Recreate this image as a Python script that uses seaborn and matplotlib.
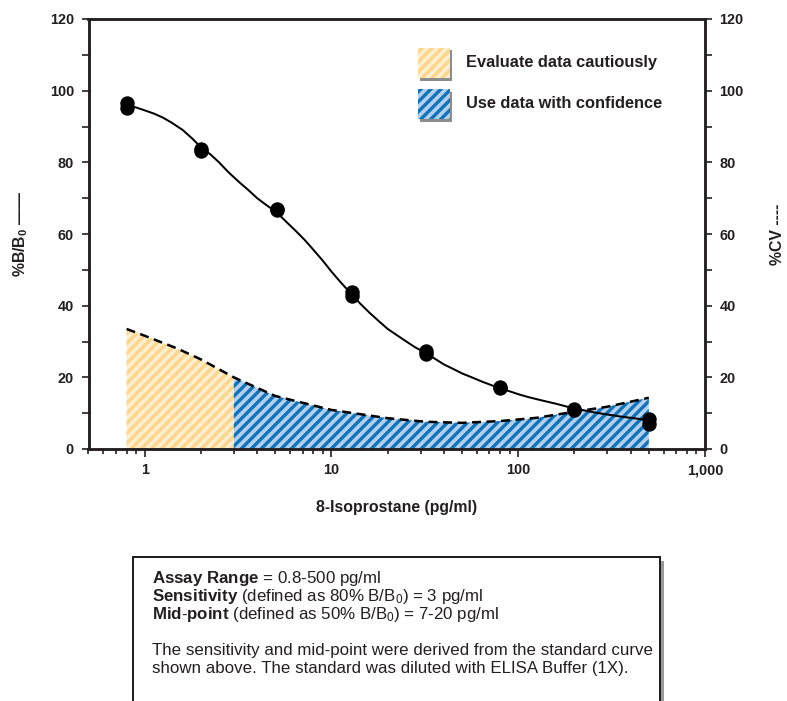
import matplotlib
matplotlib.use("Agg")
import matplotlib.pyplot as plt
import seaborn as sns
import pandas as pd
from matplotlib.patches import Rectangle
from matplotlib.ticker import FixedLocator, FixedFormatter, NullFormatter, LogLocator

# ---------------- data ----------------
std_conc = [0.8, 0.8, 2.0, 2.0, 5.1, 5.1, 12.8, 12.8, 32, 32, 80, 80, 200, 200, 500, 500]
std_bb0 = [96.5, 95.3, 83.8, 83.2, 66.9, 66.6, 43.7, 42.6, 27.3, 26.5, 17.4, 17.1, 11.1, 10.9, 8.4, 7.0]

fit_conc = [0.8, 0.9, 1, 1.12, 1.25, 1.4, 1.6, 1.8, 2, 2.25, 2.5, 2.8, 3.2, 3.6, 4, 4.5, 5.1,
            5.7, 6.4, 7.2, 8, 9, 10, 11.3, 12.8, 14.3, 16, 18, 20, 22.5, 25, 28, 32, 36, 40,
            45, 50, 57, 64, 72, 80, 90, 100, 113, 128, 143, 160, 180, 200, 225, 250, 285,
            320, 360, 400, 450, 500]
fit_bb0 = [96, 95.3, 94.5, 93.6, 92.5, 91, 89, 86.6, 84.2, 82.2, 80, 77.3, 74.5, 72.2, 70,
           68, 66, 63.5, 61, 58.3, 55.6, 52.5, 49.5, 46.3, 43.2, 40.5, 38, 35.6, 33.5, 31.7,
           30.1, 28.4, 26.8, 25.1, 23.6, 22.3, 21.1, 19.9, 18.8, 17.8, 16.9, 16.1, 15.3, 14.5,
           13.8, 13.2, 12.6, 11.9, 11.3, 10.8, 10.3, 9.8, 9.4, 9.0, 8.7, 8.35, 8.0]

cv_conc = [0.8, 1, 1.5, 2, 3, 5, 10, 20, 32, 50, 80, 125, 200, 300, 500]
cv_pct = [33.5, 31.6, 28, 25, 20, 14.8, 10.9, 8.6, 7.6, 7.3, 7.8, 8.7, 10.4, 11.8, 14.3]

sensitivity_conc = 3
legend_labels = ["Evaluate data cautiously", "Use data with confidence"]
y_ticks = [0, 20, 40, 60, 80, 100, 120]
y_minor = [10, 30, 50, 70, 90, 110]
x_ticks = [1, 10, 100, 1000]
x_tick_labels = ["1", "10", "100", "1,000"]
box_lines = [
    r"$\mathbf{Assay\ Range}$ = 0.8-500 pg/ml",
    r"$\mathbf{Sensitivity}$ (defined as 80% B/B$_0$) = 3 pg/ml",
    r"$\mathbf{Mid}$-$\mathbf{point}$ (defined as 50% B/B$_0$) = 7-20 pg/ml",
    "The sensitivity and mid-point were derived from the standard curve",
    "shown above. The standard was diluted with ELISA Buffer (1X).",
]

# ---------------- style ----------------
sns.set_style("ticks")
plt.rcParams["font.family"] = ["Liberation Sans", "DejaVu Sans"]
plt.rcParams["font.weight"] = "bold"
plt.rcParams["axes.labelweight"] = "bold"
plt.rcParams["mathtext.fontset"] = "custom"
plt.rcParams["mathtext.rm"] = "Liberation Sans:weight=normal"
plt.rcParams["mathtext.it"] = "Liberation Sans:italic:weight=normal"
plt.rcParams["mathtext.bf"] = "Liberation Sans:bold"
plt.rcParams["hatch.linewidth"] = 2.0
plt.rcParams["axes.linewidth"] = 1.5

TXT = "#231f20"
Y_LIGHT, Y_DARK = "#feeed0", "#fdd68a"
B_LIGHT, B_DARK = "#b3cfeb", "#0f72bb"
HATCH = "////"

DPI = 120
fig = plt.figure(figsize=(787 / DPI, 701 / DPI), dpi=DPI)
ax = fig.add_axes([88.5 / 787, 1 - 449 / 701, (705 - 88.5) / 787, (449 - 19) / 701])
ax2 = ax.twinx()
ax.set_zorder(2)
ax.patch.set_visible(False)
ax2.set_zorder(1)

cv = pd.DataFrame({"conc": cv_conc, "cv": cv_pct})
fit = pd.DataFrame({"conc": fit_conc, "bb0": fit_bb0})
std = pd.DataFrame({"conc": std_conc, "bb0": std_bb0})

# %CV shaded regions
low = cv[cv["conc"] <= sensitivity_conc]
high = cv[cv["conc"] >= sensitivity_conc]
ax2.fill_between(low["conc"], 0, low["cv"], facecolor=Y_LIGHT, edgecolor=Y_DARK,
                 hatch=HATCH, linewidth=0)
ax2.fill_between(high["conc"], 0, high["cv"], facecolor=B_LIGHT, edgecolor=B_DARK,
                 hatch=HATCH, linewidth=0)
sns.lineplot(data=cv, x="conc", y="cv", ax=ax2, color="black", linewidth=1.5,
             linestyle=(0, (3.6, 2.2)))

# %B/B0 curve and standards
sns.lineplot(data=fit, x="conc", y="bb0", ax=ax, color="black", linewidth=1.2)
sns.scatterplot(data=std, x="conc", y="bb0", ax=ax, color="black", s=75,
                edgecolor="black", linewidth=0, zorder=5)

for a in (ax, ax2):
    a.set_xscale("log")
    a.set_xlim(0.5, 1000)
    a.set_ylim(0, 120)
    a.yaxis.set_major_locator(FixedLocator(y_ticks))
    a.yaxis.set_minor_locator(FixedLocator(y_minor))
    a.yaxis.set_minor_formatter(NullFormatter())
    a.tick_params(axis="y", which="both", direction="out", length=4.2, width=1,
                  labelsize=8.6, pad=4.5, colors=TXT)
    for s in a.spines.values():
        s.set_visible(True)
        s.set_linewidth(1.5)
        s.set_color(TXT)

ax.xaxis.set_major_locator(FixedLocator(x_ticks))
ax.xaxis.set_major_formatter(FixedFormatter(x_tick_labels))
ax.xaxis.set_minor_locator(LogLocator(base=10, subs=[2, 3, 4, 5, 6, 7, 8, 9]))
ax.xaxis.set_minor_formatter(NullFormatter())
ax.tick_params(axis="x", which="major", direction="out", length=5, width=1,
               labelsize=8.6, pad=3.5, colors=TXT)
ax.tick_params(axis="x", which="minor", direction="out", length=3, width=1, colors=TXT)
ax2.tick_params(axis="y", labelleft=False, labelright=True)

ax.set_xlabel("8-Isoprostane (pg/ml)", fontsize=9.5, fontweight="bold", color=TXT)
ax.xaxis.set_label_coords(0.499, -0.118)
ax.set_ylabel(r"%B/B$_\mathbf{0}$ ——", fontsize=9.5, fontweight="bold", color=TXT)
ax.yaxis.set_label_coords(-0.095, 0.5)
ax2.set_ylabel("%CV ----", fontsize=9.5, fontweight="bold", color=TXT)
ax2.yaxis.set_label_coords(1.106, 0.5)

# legend (hatched swatches with drop shadow)
W, H = 617.0, 430.0
sw_w, sw_h = 32 / W, 30 / H
sx = (418 - 88.5) / W
for (top_px, light, dark, label) in [(48, Y_LIGHT, Y_DARK, legend_labels[0]),
                                     (89, B_LIGHT, B_DARK, legend_labels[1])]:
    y0 = (449 - top_px - 30) / H
    ax.add_patch(Rectangle((sx + 2.5 / W, y0 - 2.5 / H), sw_w, sw_h, transform=ax.transAxes,
                           facecolor="#8c8c8c", edgecolor="none", zorder=6, clip_on=False))
    ax.add_patch(Rectangle((sx, y0), sw_w, sw_h, transform=ax.transAxes, facecolor=light,
                           edgecolor=dark, hatch=HATCH, linewidth=0, zorder=7, clip_on=False))
    ax.text((466 - 88.5) / W, y0 + sw_h / 2, label, transform=ax.transAxes, fontsize=9.85,
            va="center", ha="left", color=TXT, zorder=8)

# information box (its bottom edge runs off the bottom of the image, as in the reference)
bx0, bx1, by0, by1 = 133, 660, 557, 705
fig.patches.append(Rectangle(((bx0 + 4) / 787, 1 - (by1 + 4) / 701), (bx1 - bx0) / 787,
                             (by1 - by0) / 701, transform=fig.transFigure,
                             facecolor="#999999", edgecolor="none", zorder=0))
fig.patches.append(Rectangle((bx0 / 787, 1 - by1 / 701), (bx1 - bx0) / 787,
                             (by1 - by0) / 701, transform=fig.transFigure,
                             facecolor="white", edgecolor=TXT, linewidth=1.2, zorder=1))
for yy, line in zip([579, 597, 615, 651, 669], box_lines):
    fig.text(152 / 787, 1 - yy / 701, line, fontsize=10.1, fontweight="normal",
             va="center", ha="left", color=TXT, zorder=3)

fig.savefig("out.png", dpi=DPI)
